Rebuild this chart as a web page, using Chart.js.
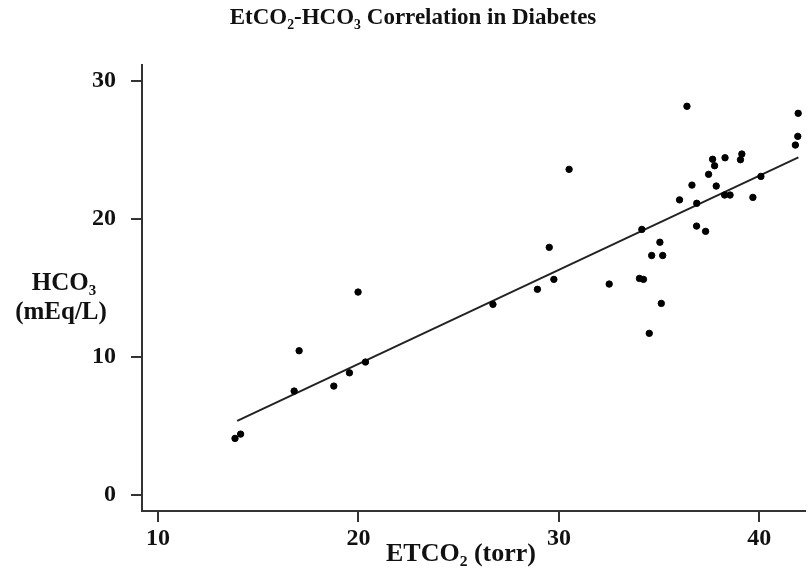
<!DOCTYPE html>
<html>
<head>
<meta charset="utf-8">
<title>EtCO2-HCO3 Correlation in Diabetes</title>
<script src="https://cdn.jsdelivr.net/npm/chart.js@4/dist/chart.umd.min.js"></script>
<style>
  html, body { margin: 0; padding: 0; background: #fff; }
  #wrap { width: 809px; height: 573px; position: relative; }
</style>
</head>
<body>
<div id="wrap"><canvas id="chart"></canvas></div>
<script>
/* EtCO2 vs HCO3 scatter with fitted regression line */

const SERIF = "'Liberation Serif', 'Times New Roman', 'DejaVu Serif', serif";

// measured pairs: end-tidal CO2 (torr) and bicarbonate (mEq/L)
const etco2 = [
  13.84, 14.12, 16.79, 17.04, 18.77, 19.55, 19.98, 20.35, 26.71, 28.93,
  29.52, 29.75, 30.51, 32.51, 34.02, 34.22, 34.14, 34.51, 34.63, 35.18,
  35.04, 35.11, 36.02, 36.39, 36.64, 36.88, 36.87, 37.32, 37.47, 37.67,
  37.77, 37.85, 38.29, 38.27, 38.54, 39.06, 39.13, 39.68, 40.08, 41.80,
  41.92, 41.94
];
const hco3 = [
  4.11, 4.42, 7.54, 10.46, 7.90, 8.86, 14.71, 9.64, 13.82, 14.91,
  17.95, 15.63, 23.60, 15.29, 15.70, 15.63, 19.25, 11.72, 17.36, 17.36,
  18.32, 13.89, 21.39, 28.17, 22.46, 21.14, 19.49, 19.11, 23.24, 24.33,
  23.86, 22.39, 24.44, 21.74, 21.74, 24.30, 24.71, 21.57, 23.09, 25.36,
  25.99, 27.66
];

// regression line end points
const fitX = [13.95, 41.95];
const fitY = [5.38, 24.47];

const xTicks = [10, 20, 30, 40];
const yTicks = [0, 10, 20, 30];
const chartTitle = 'EtCO\u2082-HCO\u2083 Correlation in Diabetes';
const yTitle = ['HCO\u2083', '(mEq/L)'];
const xTitle = 'ETCO\u2082 (torr)';

const points = etco2.map((x, i) => ({ x, y: hco3[i] }));
const fit = fitX.map((x, i) => ({ x, y: fitY[i] }));

// title and axis captions drawn by hand: the y one is horizontal, the x one sits a bit left of centre
const captions = {
  id: 'captions',
  afterDraw(chart) {
    const { ctx, chartArea } = chart;
    const cy = (chartArea.top + chartArea.bottom) / 2;
    ctx.save();
    ctx.fillStyle = '#111';
    ctx.textAlign = 'center';
    ctx.textBaseline = 'middle';
    ctx.font = `bold 23px ${SERIF}`;
    ctx.fillText(chartTitle, 413, 18);
    ctx.font = `bold 25px ${SERIF}`;
    ctx.fillText(yTitle[0], 64, cy - 4);
    ctx.fillText(yTitle[1], 61, cy + 25);
    ctx.font = `bold 26px ${SERIF}`;
    ctx.fillText(xTitle, 461, chart.height - 19);
    ctx.restore();
  }
};

const axisCommon = {
  type: 'linear',
  border: { display: true, color: '#333', width: 2 },
  grid: { drawOnChartArea: false, drawTicks: true, tickLength: 11, color: '#333', lineWidth: 2 },
};

new Chart(document.getElementById('chart'), {
  type: 'scatter',
  data: {
    datasets: [
      {
        label: 'patients',
        data: points,
        backgroundColor: '#000',
        borderColor: '#000',
        pointRadius: 3.2,
        pointHoverRadius: 3.2,
      },
      {
        type: 'line',
        label: 'fit',
        data: fit,
        borderColor: '#222',
        borderWidth: 2,
        pointRadius: 0,
        fill: false,
      },
    ],
  },
  plugins: [captions],
  options: {
    responsive: true,
    maintainAspectRatio: false,
    animation: false,
    layout: { padding: { top: 65, left: 0, bottom: 0, right: 0 } },
    plugins: {
      legend: { display: false },
      tooltip: { enabled: false },
      title: { display: false },
    },
    scales: {
      x: {
        ...axisCommon,
        position: 'bottom',
        min: 9.2,
        max: 42.27,
        afterBuildTicks: (s) => { s.ticks = xTicks.map((v) => ({ value: v })); },
        afterFit: (s) => { s.height = 62; },
        ticks: { color: '#111', padding: 2, font: { family: SERIF, size: 24, weight: 'bold' } },
      },
      y: {
        ...axisCommon,
        position: 'left',
        min: -1.15,
        max: 31.16,
        afterBuildTicks: (s) => { s.ticks = yTicks.map((v) => ({ value: v })); },
        afterFit: (s) => { s.width = 142; },
        ticks: { color: '#111', padding: 15, font: { family: SERIF, size: 24, weight: 'bold' } },
      },
    },
  },
});
</script>
</body>
</html>
